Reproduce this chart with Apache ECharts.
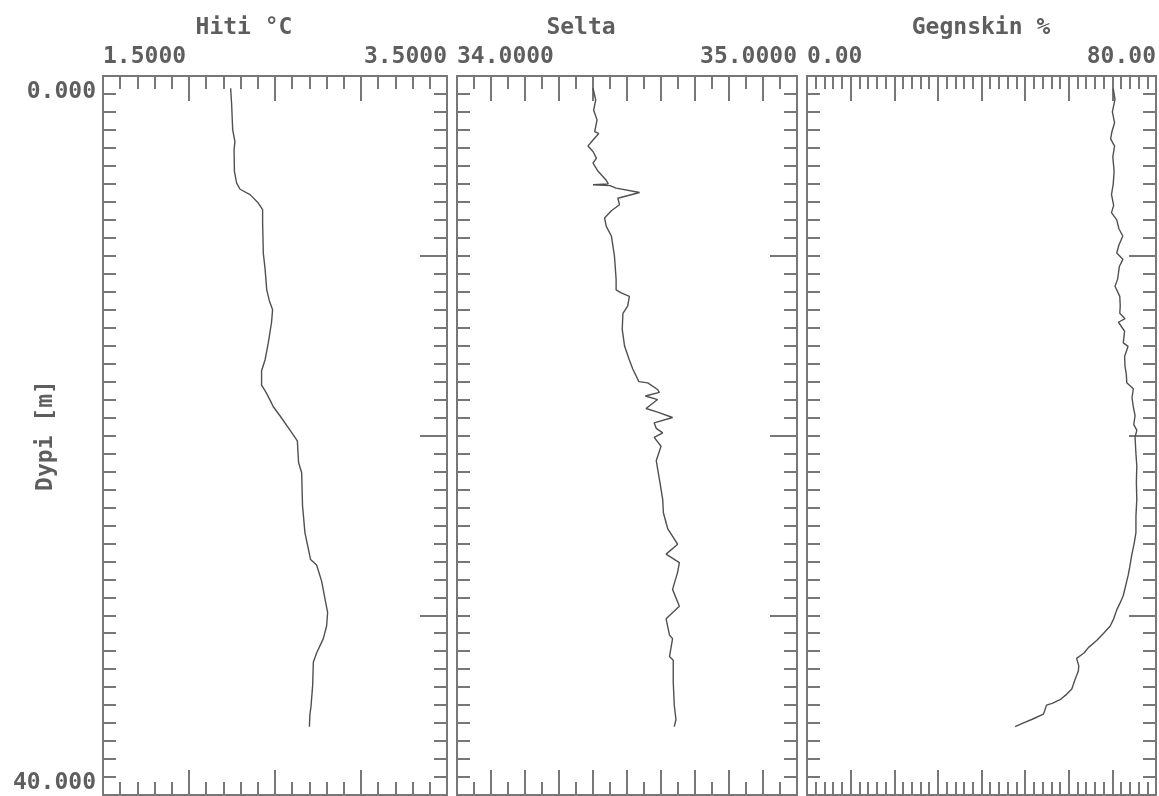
<!DOCTYPE html>
<html>
<head>
<meta charset="utf-8">
<script src="https://cdn.jsdelivr.net/npm/echarts@6/dist/echarts.min.js"></script>
<style>
  html, body { margin: 0; padding: 0; background: #ffffff; }
  #chart { width: 1159px; height: 796px; }
</style>
</head>
<body>
<div id="chart"></div>
<script>
// ---------- DATA ----------
const panelTitles = ['Hiti °C', 'Selta', 'Gegnskin %'];
const yAxisName = 'Dypi [m]';
const depthRange = [0, 40];
const depthTickLabels = ['0.000', '40.000'];

const hitiRange = [1.5, 3.5];
const seltaRange = [34.0, 35.0];
const gegnRange = [0, 80];
const hitiTickLabels = ['1.5000', '3.5000'];
const seltaTickLabels = ['34.0000', '35.0000'];
const gegnTickLabels = ['0.00', '80.00'];

const hitiDepth = [0.68, 1.6, 3.0, 3.65, 4.1, 5.3, 5.96, 6.3, 6.6, 7.07, 7.44, 8.18, 9.85, 10.7, 11.9, 12.5, 13.0, 13.7, 14.85, 15.8, 16.4, 17.2, 17.6, 18.1, 18.4, 18.9, 19.7, 20.3, 21.5, 22.07, 23.9, 25.4, 26.9, 27.2, 28.1, 29.1, 29.85, 30.6, 31.3, 32.1, 32.6, 33.9, 35.1, 35.5, 36.2];
const hitiValue = [2.242, 2.248, 2.254, 2.267, 2.262, 2.264, 2.277, 2.297, 2.355, 2.403, 2.428, 2.428, 2.432, 2.442, 2.452, 2.467, 2.486, 2.48, 2.461, 2.442, 2.422, 2.422, 2.448, 2.475, 2.49, 2.529, 2.587, 2.63, 2.637, 2.655, 2.66, 2.674, 2.707, 2.742, 2.771, 2.791, 2.806, 2.8, 2.781, 2.742, 2.723, 2.719, 2.709, 2.703, 2.7];

const seltaDepth = [0.68, 1.33, 1.9, 2.44, 3.1, 3.2, 3.56, 3.9, 4.2, 4.57, 4.85, 5.3, 5.8, 6.0, 6.05, 6.1, 6.24, 6.48, 6.8, 7.16, 7.5, 7.9, 8.37, 8.9, 10.0, 11.3, 11.9, 12.07, 12.26, 12.8, 13.2, 14.1, 15.04, 15.8, 16.3, 17.0, 17.07, 17.44, 17.6, 17.8, 18.0, 18.5, 18.7, 19.0, 19.3, 19.6, 19.85, 20.1, 20.6, 21.4, 22.4, 23.55, 24.3, 25.2, 26.05, 26.6, 27.07, 27.6, 28.56, 29.5, 30.2, 31.1, 31.3, 32.3, 32.5, 33.7, 35.0, 35.8, 36.2];
const seltaValue = [34.400, 34.408, 34.402, 34.412, 34.405, 34.417, 34.400, 34.385, 34.400, 34.410, 34.400, 34.415, 34.439, 34.445, 34.400, 34.450, 34.468, 34.537, 34.473, 34.478, 34.454, 34.434, 34.439, 34.454, 34.463, 34.468, 34.468, 34.483, 34.507, 34.502, 34.488, 34.486, 34.493, 34.507, 34.517, 34.535, 34.561, 34.590, 34.595, 34.554, 34.590, 34.556, 34.590, 34.634, 34.580, 34.586, 34.605, 34.580, 34.600, 34.586, 34.595, 34.605, 34.607, 34.620, 34.649, 34.615, 34.654, 34.649, 34.634, 34.654, 34.615, 34.625, 34.634, 34.625, 34.636, 34.636, 34.639, 34.644, 34.639];

const gegnDepth = [0.7, 1.3, 2.0, 2.6, 3.1, 3.5, 3.9, 4.5, 5.3, 6.0, 6.6, 7.2, 7.6, 8.0, 8.5, 8.9, 9.4, 9.85, 10.2, 10.6, 10.96, 11.3, 11.7, 12.26, 12.8, 13.2, 13.5, 13.7, 14.2, 14.85, 15.04, 15.6, 16.15, 16.6, 17.07, 17.4, 17.9, 18.4, 18.9, 19.4, 19.7, 20.1, 21.0, 21.7, 22.6, 23.55, 24.5, 25.4, 26.0, 26.7, 27.3, 27.8, 28.4, 28.9, 29.3, 29.7, 30.2, 30.6, 31.0, 31.4, 31.8, 32.1, 32.4, 32.8, 33.1, 33.6, 34.1, 34.4, 34.7, 34.9, 35.0, 35.3, 35.5, 35.8, 36.0, 36.2];
const gegnValue = [70.2, 70.6, 70.0, 70.5, 69.9, 69.6, 70.5, 70.1, 70.4, 70.2, 69.8, 70.3, 69.8, 71.0, 71.5, 72.4, 71.5, 71.0, 72.4, 71.6, 71.4, 71.2, 70.6, 71.7, 71.8, 71.7, 72.9, 71.4, 72.8, 72.5, 73.6, 72.8, 72.9, 73.2, 73.3, 74.8, 74.5, 74.8, 75.2, 74.9, 75.6, 75.2, 75.4, 75.6, 75.5, 75.6, 75.4, 75.4, 75.0, 74.4, 74.0, 73.6, 73.0, 72.5, 71.8, 71.0, 70.3, 69.5, 68.0, 66.4, 64.5, 63.5, 61.8, 62.3, 62.2, 61.4, 60.7, 59.5, 58.0, 56.2, 54.9, 54.5, 54.2, 51.5, 49.5, 47.7];

// ---------- LAYOUT / STYLE ----------
const FONT = '"DejaVu Sans Mono", "Liberation Mono", monospace';
const TEXT_COLOR = '#5e5e5e';
const FRAME_COLOR = '#777777';
const LINE_COLOR = '#505050';
const FS = 23;
const FW = 'bold';
const TOP = 76, HEIGHT = 719;

const panels = [
  { left: 103, width: 344, range: hitiRange, labels: hitiTickLabels, interval: 0.5, minorSplit: 5, titleX: 244, depth: hitiDepth, vals: hitiValue },
  { left: 457, width: 340, range: seltaRange, labels: seltaTickLabels, interval: 0.1, minorSplit: 2, titleX: 581, depth: seltaDepth, vals: seltaValue },
  { left: 807, width: 349, range: gegnRange, labels: gegnTickLabels, interval: 10, minorSplit: 5, titleX: 981, depth: gegnDepth, vals: gegnValue }
];

const grid = [], xAxis = [], yAxis = [], series = [], title = [];
const lineStyle = { color: FRAME_COLOR, width: 2 };
const tickStyle = { color: FRAME_COLOR, width: 2 };

panels.forEach((p, i) => {
  grid.push({ left: p.left, top: TOP, width: p.width, height: HEIGHT, containLabel: false, outerBoundsMode: 'none' });
  title.push({
    text: panelTitles[i], left: p.titleX, top: 17, textAlign: 'center', padding: 0,
    textStyle: { fontFamily: FONT, fontSize: FS, fontWeight: FW, color: TEXT_COLOR }
  });
  xAxis.push({
    type: 'value', gridIndex: i, position: 'top', min: p.range[0], max: p.range[1], interval: p.interval,
    axisLine: { show: true, onZero: false, lineStyle },
    axisTick: { show: true, inside: true, length: 25, lineStyle: tickStyle },
    minorTick: { show: true, splitNumber: p.minorSplit, length: 13, lineStyle: tickStyle },
    splitLine: { show: false },
    axisLabel: {
      show: true, customValues: p.range, margin: 7,
      formatter: (v) => (Math.abs(v - p.range[0]) < 1e-9 ? p.labels[0] : p.labels[1]),
      alignMinLabel: 'left', alignMaxLabel: 'right', hideOverlap: false,
      fontFamily: FONT, fontSize: FS, fontWeight: FW, color: TEXT_COLOR
    }
  });
  xAxis.push({
    type: 'value', gridIndex: i, position: 'bottom', min: p.range[0], max: p.range[1], interval: p.interval,
    axisLine: { show: true, onZero: false, lineStyle },
    axisTick: { show: true, inside: true, length: 25, lineStyle: tickStyle },
    minorTick: { show: true, splitNumber: p.minorSplit, length: 13, lineStyle: tickStyle },
    splitLine: { show: false },
    axisLabel: { show: false }
  });
  const leftY = {
    type: 'value', gridIndex: i, position: 'left', inverse: true, min: depthRange[0], max: depthRange[1], interval: 10,
    axisLine: { show: true, onZero: false, lineStyle },
    axisTick: { show: true, inside: true, length: 13, lineStyle: tickStyle },
    minorTick: { show: true, splitNumber: 10, length: 13, lineStyle: tickStyle },
    splitLine: { show: false },
    axisLabel: { show: false }
  };
  if (i === 0) {
    leftY.axisLabel = {
      show: true, customValues: depthRange, margin: 7, hideOverlap: false,
      formatter: (v) => (v === depthRange[0] ? '{a|' + depthTickLabels[0] + '}' : '{b|' + depthTickLabels[1] + '}'),
      verticalAlignMinLabel: 'top', verticalAlignMaxLabel: 'bottom',
      fontFamily: FONT, fontSize: FS, fontWeight: FW, color: TEXT_COLOR,
      rich: {
        a: { fontFamily: FONT, fontSize: FS, fontWeight: FW, color: TEXT_COLOR, padding: [5, 0, 0, 0] },
        b: { fontFamily: FONT, fontSize: FS, fontWeight: FW, color: TEXT_COLOR, padding: [0, 0, 0, 0] }
      }
    };
    leftY.name = yAxisName;
    leftY.nameLocation = 'middle';
    leftY.nameRotate = 90;
    leftY.nameGap = 45;
    leftY.nameMoveOverlap = false;
    leftY.nameTextStyle = { fontFamily: FONT, fontSize: FS, color: TEXT_COLOR, fontWeight: 'bold' };
  }
  yAxis.push(leftY);
  yAxis.push({
    type: 'value', gridIndex: i, position: 'right', inverse: true, min: depthRange[0], max: depthRange[1], interval: 10,
    axisLine: { show: true, onZero: false, lineStyle },
    axisTick: { show: true, inside: true, length: 27, lineStyle: tickStyle },
    minorTick: { show: true, splitNumber: 10, length: 13, lineStyle: tickStyle },
    splitLine: { show: false },
    axisLabel: { show: false }
  });
  series.push({
    type: 'line', xAxisIndex: i * 2, yAxisIndex: i * 2,
    data: p.depth.map((d, k) => [p.vals[k], d]),
    showSymbol: false, symbol: 'none', smooth: false, animation: false,
    lineStyle: { color: LINE_COLOR, width: 1.4 }
  });
});

const chart = echarts.init(document.getElementById('chart'), null, { renderer: 'canvas' });
chart.setOption({
  backgroundColor: '#ffffff',
  animation: false,
  title, grid, xAxis, yAxis, series
});
</script>
</body>
</html>
